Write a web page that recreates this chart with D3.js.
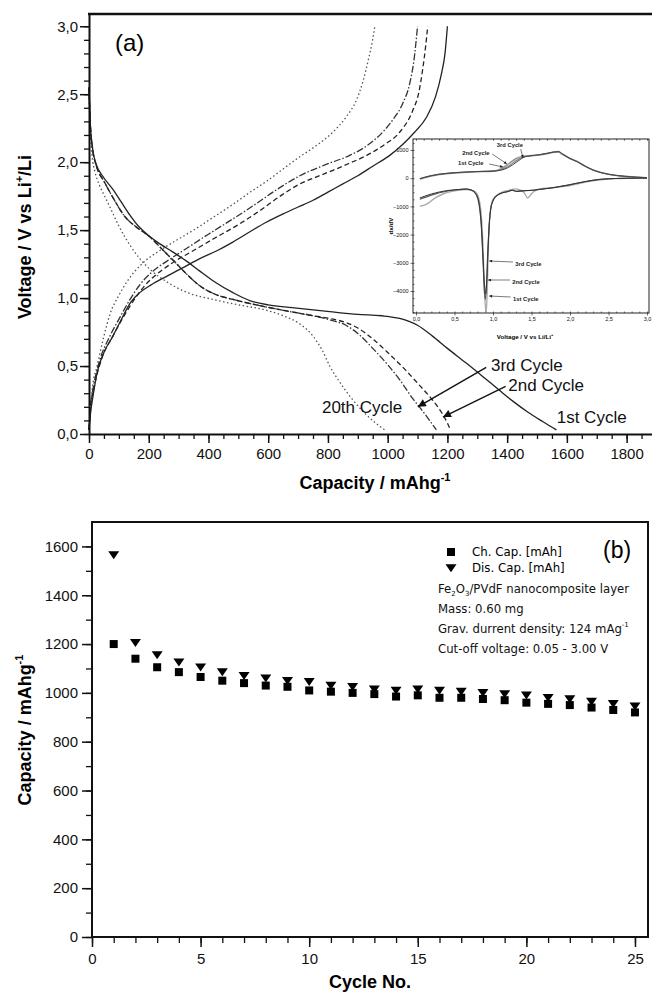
<!DOCTYPE html>
<html>
<head>
<meta charset="utf-8">
<script src="https://cdn.jsdelivr.net/npm/d3@7"></script>
<style>
  body { margin: 0; background: #fff; }
  svg { display: block; font-family: "Liberation Sans", Arial, sans-serif; }
  .axis path, .axis line { stroke: #111; }
  .axis text { fill: #111; }
</style>
</head>
<body>
<svg id="svg" width="652" height="992"></svg>
<script>
// ---- Panel (a): voltage profiles, [capacity mAh/g, voltage V]
const dis1 = [[0,2.55],[4,2.3],[12,2.1],[25,1.98],[45,1.9],[80,1.8],[110,1.7],[137,1.61],[165,1.53],[194,1.47],[230,1.41],[280,1.34],[328,1.27],[370,1.2],[420,1.12],[482,1.04],[540,0.98],[600,0.95],[680,0.93],[806,0.9],[900,0.88],[980,0.87],[1040,0.85],[1100,0.8],[1150,0.72],[1200,0.63],[1264,0.52],[1320,0.42],[1375,0.32],[1420,0.24],[1470,0.16],[1520,0.09],[1565,0.03]];
const chg1 = [[0,0.03],[5,0.15],[15,0.3],[27,0.45],[50,0.6],[80,0.72],[110,0.85],[140,0.97],[170,1.04],[210,1.1],[260,1.16],[320,1.23],[371,1.29],[430,1.35],[480,1.41],[540,1.49],[595,1.56],[650,1.62],[700,1.67],[750,1.72],[800,1.78],[850,1.84],[900,1.9],[950,1.97],[1007,2.05],[1050,2.13],[1090,2.22],[1130,2.33],[1160,2.48],[1180,2.65],[1192,2.8],[1200,3.0]];
const dis2 = [[0,2.55],[4,2.3],[12,2.1],[25,1.97],[50,1.86],[80,1.74],[120,1.6],[160,1.52],[204,1.45],[240,1.37],[281,1.28],[330,1.17],[371,1.09],[420,1.03],[482,0.99],[560,0.95],[650,0.91],[750,0.87],[806,0.85],[860,0.82],[900,0.78],[950,0.7],[1000,0.6],[1060,0.47],[1110,0.35],[1150,0.25],[1180,0.16],[1200,0.08],[1210,0.03]];
const chg2 = [[0,0.03],[5,0.18],[18,0.35],[42,0.55],[80,0.72],[115,0.86],[155,1.0],[190,1.1],[235,1.19],[280,1.26],[350,1.35],[420,1.44],[500,1.54],[570,1.64],[640,1.75],[706,1.84],[760,1.89],[817,1.94],[870,1.99],[930,2.05],[990,2.13],[1040,2.22],[1084,2.38],[1105,2.52],[1117,2.68],[1127,2.85],[1134,3.0]];
const dis3 = [[0,2.55],[4,2.3],[12,2.1],[25,1.97],[50,1.86],[80,1.74],[120,1.6],[160,1.52],[204,1.45],[240,1.37],[281,1.28],[330,1.17],[371,1.09],[420,1.03],[482,0.99],[560,0.95],[650,0.91],[750,0.87],[806,0.84],[860,0.8],[900,0.74],[950,0.63],[1000,0.51],[1040,0.4],[1084,0.26],[1120,0.16],[1150,0.07],[1163,0.03]];
const chg3 = [[0,0.03],[5,0.2],[15,0.35],[37,0.55],[70,0.72],[104,0.86],[140,1.0],[171,1.1],[215,1.2],[260,1.27],[330,1.37],[400,1.47],[480,1.58],[550,1.68],[630,1.8],[706,1.9],[790,1.98],[873,2.05],[930,2.12],[983,2.22],[1020,2.32],[1050,2.43],[1074,2.58],[1088,2.75],[1100,3.0]];
const dis20 = [[0,2.5],[4,2.25],[10,2.05],[20,1.93],[35,1.83],[50,1.76],[70,1.67],[100,1.53],[140,1.38],[170,1.29],[210,1.2],[260,1.12],[330,1.04],[415,0.99],[500,0.95],[595,0.91],[650,0.87],[706,0.81],[750,0.72],[780,0.62],[806,0.5],[840,0.38],[880,0.26],[920,0.16],[960,0.08],[990,0.03]];
const chg20 = [[0,0.03],[5,0.2],[12,0.35],[27,0.5],[50,0.72],[70,0.88],[100,1.02],[127,1.12],[181,1.26],[230,1.34],[281,1.41],[350,1.5],[420,1.6],[482,1.69],[540,1.78],[595,1.86],[650,1.95],[706,2.04],[760,2.12],[816,2.22],[860,2.33],[896,2.46],[918,2.6],[935,2.75],[948,2.88],[957,3.0]];

const voltTicks = [0, 0.5, 1.0, 1.5, 2.0, 2.5, 3.0];
const capTicks = [0, 200, 400, 600, 800, 1000, 1200, 1400, 1600, 1800];

// ---- Inset: dx/dV vs voltage, [V, dx/dV]
const inDis1 = [[0.05,-1000],[0.15,-900],[0.25,-700],[0.35,-560],[0.5,-450],[0.65,-400],[0.75,-450],[0.8,-600],[0.84,-1100],[0.87,-2400],[0.89,-4000],[0.91,-4800],[0.925,-4000],[0.94,-2400],[0.96,-1300],[1.0,-750],[1.1,-520],[1.2,-430],[1.3,-380],[1.4,-500],[1.45,-700],[1.5,-550],[1.6,-380],[1.8,-330],[2.0,-260],[2.2,-140],[2.4,-60],[2.6,-15],[2.8,0],[3.0,10]];
const inDis2 = [[0.05,-750],[0.2,-600],[0.4,-460],[0.55,-410],[0.65,-390],[0.72,-430],[0.78,-580],[0.82,-950],[0.85,-1800],[0.87,-2900],[0.885,-3900],[0.9,-4300],[0.915,-3800],[0.93,-2700],[0.95,-1700],[0.97,-1100],[1.0,-800],[1.05,-620],[1.1,-540],[1.2,-470],[1.25,-420],[1.3,-470],[1.4,-450],[1.5,-430],[1.6,-400],[1.75,-350],[1.9,-280],[2.0,-230],[2.2,-120],[2.4,-40],[2.6,-10],[2.8,0],[3.0,10]];
const inDis3 = [[0.05,-700],[0.2,-560],[0.4,-440],[0.55,-400],[0.65,-380],[0.72,-420],[0.78,-560],[0.82,-900],[0.85,-1700],[0.87,-2800],[0.89,-3800],[0.905,-4100],[0.92,-3600],[0.935,-2600],[0.95,-1700],[0.97,-1100],[1.0,-800],[1.05,-620],[1.1,-540],[1.2,-470],[1.25,-430],[1.3,-460],[1.4,-440],[1.5,-430],[1.6,-400],[1.75,-350],[1.9,-280],[2.0,-230],[2.2,-120],[2.4,-40],[2.6,-10],[2.8,0],[3.0,10]];
const inChg1 = [[0.05,-30],[0.2,80],[0.4,160],[0.6,200],[0.8,230],[1.0,250],[1.1,330],[1.2,500],[1.3,700],[1.4,780],[1.5,800],[1.6,820],[1.7,870],[1.8,920],[1.85,930],[1.9,850],[2.0,700],[2.1,580],[2.2,420],[2.3,290],[2.4,200],[2.5,140],[2.7,70],[2.9,30],[3.0,10]];
const inChg2 = [[0.05,-20],[0.2,90],[0.4,170],[0.6,210],[0.8,235],[1.0,250],[1.1,300],[1.2,420],[1.3,620],[1.4,760],[1.5,800],[1.6,830],[1.7,880],[1.8,940],[1.85,950],[1.9,860],[2.0,700],[2.1,580],[2.2,420],[2.3,290],[2.4,200],[2.5,140],[2.7,70],[2.9,30],[3.0,10]];
const inChg3 = [[0.05,-20],[0.2,90],[0.4,170],[0.6,210],[0.8,235],[1.0,250],[1.1,280],[1.2,380],[1.3,560],[1.4,740],[1.5,800],[1.6,830],[1.7,880],[1.8,930],[1.85,940],[1.9,860],[2.0,700],[2.1,580],[2.2,420],[2.3,290],[2.4,200],[2.5,140],[2.7,70],[2.9,30],[3.0,10]];

const inVTicks = [0, 0.5, 1.0, 1.5, 2.0, 2.5, 3.0];
const inDTicks = [1000, 0, -1000, -2000, -3000, -4000];

// ---- Panel (b): cycling, mAh/g
const cycles = [1,2,3,4,5,6,7,8,9,10,11,12,13,14,15,16,17,18,19,20,21,22,23,24,25];
const chCap = [1200,1140,1105,1085,1065,1050,1040,1030,1025,1010,1005,1000,995,985,990,980,980,975,970,960,955,950,940,930,920];
const disCap = [1565,1205,1155,1125,1105,1085,1070,1060,1050,1045,1030,1025,1015,1010,1015,1010,1005,1000,995,990,980,975,965,955,945];
const cycleTicks = [0, 5, 10, 15, 20, 25];
const capBTicks = [0, 200, 400, 600, 800, 1000, 1200, 1400, 1600];

const notes = [
  "Fe|2|O|3|/PVdF nanocomposite layer",
  "Mass: 0.60 mg",
  "Grav. durrent density: 124 mAg",
  "Cut-off voltage: 0.05 - 3.00 V"
];

const svg = d3.select("svg#svg");
const comma = d => d3.format(".1f")(d).replace(".", ",");

// arrow markers
const defs = svg.append("defs");
defs.append("marker").attr("id", "arr").attr("markerUnits", "userSpaceOnUse")
  .attr("viewBox", "0 0 10 10").attr("refX", 10).attr("refY", 5)
  .attr("markerWidth", 12).attr("markerHeight", 8).attr("orient", "auto")
  .append("path").attr("d", "M0,0L10,5L0,10z").attr("fill", "#111");
defs.append("marker").attr("id", "arrS").attr("markerUnits", "userSpaceOnUse")
  .attr("viewBox", "0 0 10 10").attr("refX", 10).attr("refY", 5)
  .attr("markerWidth", 4).attr("markerHeight", 3).attr("orient", "auto")
  .append("path").attr("d", "M0,0L10,5L0,10z").attr("fill", "#222");

// ================= Panel (a) =================
const xA = d3.scaleLinear().domain([0, 1885]).range([89, 652]);
const yA = d3.scaleLinear().domain([0, 3.09]).range([434, 14]);

const gA = svg.append("g");
const lineA = d3.line().x(d => xA(d[0])).y(d => yA(d[1])).curve(d3.curveMonotoneX);

const curvesA = [
  {d: dis20, dash: "1.5,2.5", c: "#555"}, {d: chg20, dash: "1.5,2.5", c: "#555"},
  {d: dis3, dash: "7,2,1.5,2", c: "#333"}, {d: chg3, dash: "7,2,1.5,2", c: "#333"},
  {d: dis2, dash: "5,3", c: "#222"}, {d: chg2, dash: "5,3", c: "#222"},
  {d: dis1, dash: null, c: "#222"}, {d: chg1, dash: null, c: "#222"}
];
gA.selectAll("path.curve").data(curvesA).enter().append("path")
  .attr("class", "curve")
  .attr("d", d => lineA(d.d))
  .attr("fill", "none")
  .attr("stroke", d => d.c)
  .attr("stroke-width", 1.3)
  .attr("stroke-dasharray", d => d.dash);

// axes (a)
gA.append("g").attr("class", "axis").attr("transform", "translate(0,434)")
  .call(d3.axisBottom(xA).tickValues(d3.range(0, 1900, 50)).tickSize(5).tickSizeOuter(0).tickFormat(""))
  .call(g => g.selectAll("line").attr("stroke-width", 1.3));
gA.append("g").attr("class", "axis").attr("transform", "translate(0,434)")
  .call(d3.axisBottom(xA).tickValues(capTicks).tickSize(9).tickSizeOuter(0).tickPadding(5).tickFormat(d3.format("d")))
  .call(g => g.select(".domain").attr("stroke-width", 2))
  .call(g => g.selectAll("line").attr("stroke-width", 1.5))
  .call(g => g.selectAll("text").attr("font-size", 15).attr("font-family", "Liberation Sans, Arial"));

gA.append("g").attr("class", "axis").attr("transform", "translate(89,0)")
  .call(d3.axisLeft(yA).tickValues(d3.range(0, 3.05, 0.1)).tickSize(5).tickSizeOuter(0).tickFormat(""))
  .call(g => g.selectAll("line").attr("stroke-width", 1.3));
gA.append("g").attr("class", "axis").attr("transform", "translate(89,0)")
  .call(d3.axisLeft(yA).tickValues(voltTicks).tickSize(9).tickSizeOuter(0).tickPadding(2).tickFormat(comma))
  .call(g => g.select(".domain").attr("stroke-width", 2))
  .call(g => g.selectAll("line").attr("stroke-width", 1.5))
  .call(g => g.selectAll("text").attr("font-size", 15).attr("font-family", "Liberation Sans, Arial"));

gA.append("line").attr("x1", 88).attr("x2", 652).attr("y1", 14).attr("y2", 14)
  .attr("stroke", "#111").attr("stroke-width", 2.5);

gA.append("text").attr("x", 115).attr("y", 51).attr("font-size", 24).text("(a)");

// axis titles (a)
const titleA = gA.append("text").attr("x", 375).attr("y", 489).attr("text-anchor", "middle")
  .attr("font-size", 18).attr("font-weight", "bold");
titleA.append("tspan").text("Capacity / mAhg");
titleA.append("tspan").attr("font-size", 11).attr("dy", -8).text("-1");

const yTitleA = gA.append("text").attr("transform", "translate(31,237) rotate(-90)")
  .attr("text-anchor", "middle").attr("font-size", 18).attr("font-weight", "bold");
yTitleA.append("tspan").text("Voltage / V vs Li");
yTitleA.append("tspan").attr("font-size", 11).attr("dy", -8).text("+");
yTitleA.append("tspan").attr("dy", 8).text("/Li");

// cycle annotations (a)
const labelsA = [
  {t: "3rd Cycle", at: [1346, 0.46], from: [1330, 0.49], to: [1101, 0.2]},
  {t: "2nd Cycle", at: [1404, 0.32], from: [1395, 0.35], to: [1185, 0.125]},
  {t: "1st Cycle", at: [1566, 0.08]},
  {t: "20th Cycle", at: [780, 0.155]}
];
gA.selectAll("line.ann").data(labelsA.filter(d => d.from)).enter().append("line")
  .attr("class", "ann")
  .attr("x1", d => xA(d.from[0])).attr("y1", d => yA(d.from[1]))
  .attr("x2", d => xA(d.to[0])).attr("y2", d => yA(d.to[1]))
  .attr("stroke", "#111").attr("stroke-width", 1.4).attr("marker-end", "url(#arr)");
gA.selectAll("text.ann").data(labelsA).enter().append("text")
  .attr("class", "ann")
  .attr("x", d => xA(d.at[0])).attr("y", d => yA(d.at[1]))
  .attr("font-size", 17).attr("fill", "#111").text(d => d.t);

// ================= Inset =================
const xI = d3.scaleLinear().domain([0, 3]).range([416, 647]);
const yI = d3.scaleLinear().domain([-4780, 1390]).range([313, 139]);
const gI = svg.append("g");
gI.append("rect").attr("x", 413).attr("y", 139).attr("width", 236).attr("height", 174)
  .attr("fill", "#fff").attr("stroke", "#222").attr("stroke-width", 1);

const lineI = d3.line().x(d => xI(d[0])).y(d => yI(d[1])).curve(d3.curveMonotoneX);
const curvesI = [
  {d: inDis1, c: "#aaa", w: 1.4}, {d: inChg1, c: "#999", w: 1.6},
  {d: inDis2, c: "#555", w: 1.1}, {d: inChg2, c: "#777", w: 1.1},
  {d: inDis3, c: "#333", w: 1.0}, {d: inChg3, c: "#444", w: 1.0}
];
gI.selectAll("path.icurve").data(curvesI).enter().append("path")
  .attr("class", "icurve")
  .attr("d", d => lineI(d.d))
  .attr("fill", "none").attr("stroke", d => d.c).attr("stroke-width", d => d.w);

gI.append("g").attr("class", "axis").attr("transform", "translate(0,313)")
  .call(d3.axisBottom(xI).tickValues(d3.range(0, 3.01, 0.1)).tickSize(-1.5).tickSizeOuter(0).tickFormat(""))
  .call(g => g.select(".domain").remove());
gI.append("g").attr("class", "axis").attr("transform", "translate(0,313)")
  .call(d3.axisBottom(xI).tickValues(inVTicks).tickSize(2.5).tickSizeOuter(0).tickPadding(2).tickFormat(comma))
  .call(g => g.select(".domain").remove())
  .call(g => g.selectAll("text").attr("font-size", 5.5));
gI.append("g").attr("class", "axis").attr("transform", "translate(0,139)")
  .call(d3.axisTop(xI).tickValues(d3.range(0, 3.01, 0.1)).tickSize(-1.8).tickSizeOuter(0).tickFormat(""))
  .call(g => g.select(".domain").remove());
gI.append("g").attr("class", "axis").attr("transform", "translate(413,0)")
  .call(d3.axisLeft(yI).tickValues(d3.range(-4750, 1300, 250)).tickSize(-1.5).tickSizeOuter(0).tickFormat(""))
  .call(g => g.select(".domain").remove());
gI.append("g").attr("class", "axis").attr("transform", "translate(413,0)")
  .call(d3.axisLeft(yI).tickValues(inDTicks).tickSize(2.5).tickSizeOuter(0).tickPadding(2).tickFormat(d3.format("d")))
  .call(g => g.select(".domain").remove())
  .call(g => g.selectAll("text").attr("font-size", 5.5));
gI.selectAll(".axis line").attr("stroke-width", 0.6);

const xTitleI = gI.append("text").attr("x", 525).attr("y", 339).attr("text-anchor", "middle")
  .attr("font-size", 6.2).attr("font-weight", "bold");
xTitleI.append("tspan").text("Voltage / V vs Li/Li");
xTitleI.append("tspan").attr("font-size", 4).attr("dy", -3).text("+");
gI.append("text").attr("transform", "translate(393,226) rotate(-90)").attr("text-anchor", "middle")
  .attr("font-size", 6.2).attr("font-weight", "bold").text("dx/dV");

const labelsI = [
  {t: "3rd Cycle", at: [1.05, 1090], from: [1.36, 1035], to: [1.39, 716]},
  {t: "2nd Cycle", at: [0.6, 810], from: [0.99, 858], to: [1.18, 504]},
  {t: "1st Cycle", at: [0.545, 455], from: [0.95, 504], to: [1.13, 397]},
  {t: "3rd Cycle", at: [1.29, -3110], from: [1.26, -2972], to: [0.95, -2936]},
  {t: "2nd Cycle", at: [1.25, -3750], from: [1.22, -3610], to: [0.935, -3610]},
  {t: "1st Cycle", at: [1.26, -4350], from: [1.23, -4213], to: [0.95, -4177]}
];
gI.selectAll("line.iann").data(labelsI).enter().append("line")
  .attr("class", "iann")
  .attr("x1", d => xI(d.from[0])).attr("y1", d => yI(d.from[1]))
  .attr("x2", d => xI(d.to[0])).attr("y2", d => yI(d.to[1]))
  .attr("stroke", "#222").attr("stroke-width", 0.6).attr("marker-end", "url(#arrS)");
gI.selectAll("text.iann").data(labelsI).enter().append("text")
  .attr("class", "iann")
  .attr("x", d => xI(d.at[0])).attr("y", d => yI(d.at[1]))
  .attr("font-size", 5.8).attr("font-weight", "bold").attr("fill", "#222").text(d => d.t);

// ================= Panel (b) =================
const xB = d3.scaleLinear().domain([0, 25.6]).range([92, 648]);
const yB = d3.scaleLinear().domain([0, 1700]).range([937, 522]);
const gB = svg.append("g");

gB.append("g").attr("class", "axis").attr("transform", "translate(0,937)")
  .call(d3.axisBottom(xB).tickValues(d3.range(0, 26, 1)).tickSize(6).tickSizeOuter(0).tickFormat(""))
  .call(g => g.selectAll("line").attr("stroke-width", 1.3));
gB.append("g").attr("class", "axis").attr("transform", "translate(0,937)")
  .call(d3.axisBottom(xB).tickValues(cycleTicks).tickSize(10).tickSizeOuter(0).tickPadding(6).tickFormat(d3.format("d")))
  .call(g => g.selectAll("line").attr("stroke-width", 1.5))
  .call(g => g.selectAll("text").attr("font-size", 15));
gB.append("g").attr("class", "axis").attr("transform", "translate(92,0)")
  .call(d3.axisLeft(yB).tickValues(d3.range(0, 1700, 100)).tickSize(6).tickSizeOuter(0).tickFormat(""))
  .call(g => g.selectAll("line").attr("stroke-width", 1.3));
gB.append("g").attr("class", "axis").attr("transform", "translate(92,0)")
  .call(d3.axisLeft(yB).tickValues(capBTicks).tickSize(10).tickSizeOuter(0).tickPadding(4).tickFormat(d3.format("d")))
  .call(g => g.selectAll("line").attr("stroke-width", 1.5))
  .call(g => g.selectAll("text").attr("font-size", 15));
gB.selectAll(".domain").remove();
gB.append("rect").attr("x", 92).attr("y", 522).attr("width", 556).attr("height", 415)
  .attr("fill", "none").attr("stroke", "#111").attr("stroke-width", 2);

const tri = "M-5.5,-3.8L5.5,-3.8L0,4.2Z";
gB.selectAll("rect.ch").data(cycles).enter().append("rect")
  .attr("class", "ch")
  .attr("x", (d, i) => xB(d) - 4).attr("y", (d, i) => yB(chCap[i]) - 4)
  .attr("width", 8).attr("height", 8).attr("fill", "#000");
gB.selectAll("path.dis").data(cycles).enter().append("path")
  .attr("class", "dis")
  .attr("transform", (d, i) => "translate(" + xB(d) + "," + yB(disCap[i]) + ")")
  .attr("d", tri).attr("fill", "#000");

// legend
const legFont = "DejaVu Sans, Verdana, sans-serif";
gB.append("rect").attr("x", 447).attr("y", 548).attr("width", 8).attr("height", 8).attr("fill", "#000");
gB.append("path").attr("transform", "translate(451,568)").attr("d", tri).attr("fill", "#000");
gB.append("text").attr("x", 472).attr("y", 556).attr("font-size", 11.8).attr("font-family", legFont).text("Ch. Cap. [mAh]");
gB.append("text").attr("x", 472).attr("y", 572).attr("font-size", 11.8).attr("font-family", legFont).text("Dis. Cap. [mAh]");
gB.append("text").attr("x", 603).attr("y", 558).attr("font-size", 23).text("(b)");

notes.forEach(function(n, i) {
  const t = gB.append("text").attr("x", 438).attr("y", 593 + i * 20)
    .attr("font-size", 11.7).attr("font-family", legFont).attr("fill", "#111");
  if (i === 0) {
    const parts = n.split("|");
    t.append("tspan").text(parts[0]);
    t.append("tspan").attr("font-size", 7).attr("dy", 3).text(parts[1]);
    t.append("tspan").attr("dy", -3).text(parts[2]);
    t.append("tspan").attr("font-size", 7).attr("dy", 3).text(parts[3]);
    t.append("tspan").attr("dy", -3).text(parts[4]);
  } else if (i === 2) {
    t.append("tspan").text(n);
    t.append("tspan").attr("font-size", 7).attr("dy", -6).text("-1");
  } else {
    t.text(n);
  }
});

const yTitleB = gB.append("text").attr("transform", "translate(31,730) rotate(-90)")
  .attr("text-anchor", "middle").attr("font-size", 18).attr("font-weight", "bold");
yTitleB.append("tspan").text("Capacity / mAhg");
yTitleB.append("tspan").attr("font-size", 11).attr("dy", -8).text("-1");

gB.append("text").attr("x", 370).attr("y", 988).attr("text-anchor", "middle")
  .attr("font-size", 18).attr("font-weight", "bold").text("Cycle No.");
</script>
</body>
</html>
